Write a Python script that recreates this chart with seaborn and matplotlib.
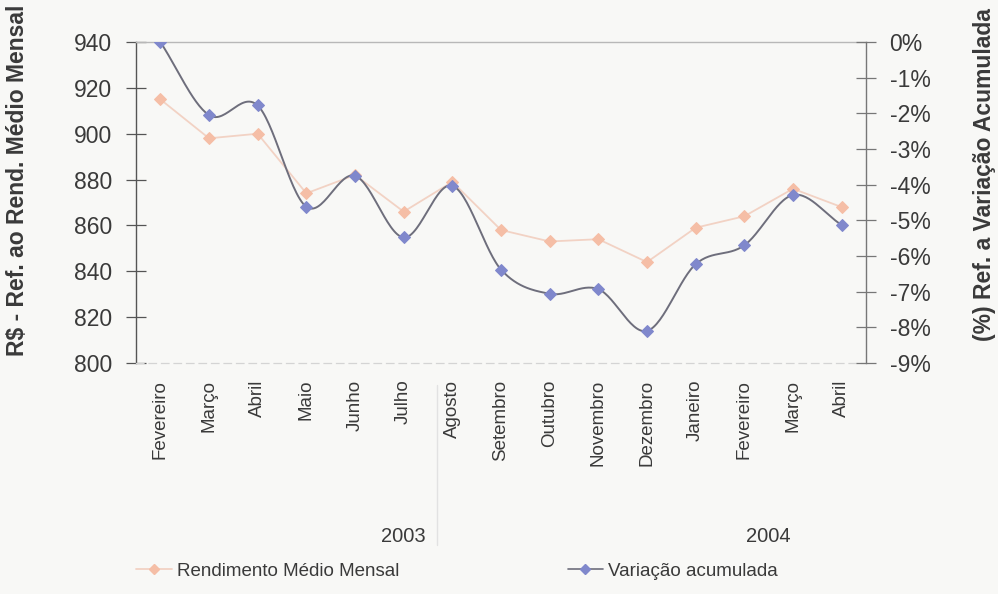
import numpy as np
import pandas as pd
import matplotlib
matplotlib.use("Agg")
import matplotlib.pyplot as plt
import matplotlib.transforms as mtransforms
from matplotlib.lines import Line2D
import seaborn as sns

# Monthly series, Feb/2003 - Apr/2004
meses = ["Fevereiro", "Março", "Abril", "Maio", "Junho", "Julho", "Agosto",
         "Setembro", "Outubro", "Novembro", "Dezembro", "Janeiro", "Fevereiro",
         "Março", "Abril"]
rendimento = [915, 898, 900, 874, 882, 866, 879, 858, 853, 854, 844, 859, 864, 876, 868]
variacao = [0.0, -2.05, -1.78, -4.62, -3.75, -5.48, -4.03, -6.38, -7.06, -6.93,
            -8.10, -6.23, -5.70, -4.29, -5.13]
anos = ["2003", "2004"]
ano_pos = [5.0, 12.5]
left_ticks = [800, 820, 840, 860, 880, 900, 920, 940]
right_ticks = [0, -1, -2, -3, -4, -5, -6, -7, -8, -9]

sns.set_theme(style="white")
plt.rcParams["font.family"] = ["Liberation Sans", "DejaVu Sans"]

BG = "#f8f8f6"
ORANGE_LINE = "#f2d2c4"
ORANGE_MK = "#f5bea6"
BLUE_LINE = "#6e6e7c"
BLUE_MK = "#8088cc"
TXT = "#3a3a3a"


def catmull_rom(xs, ys, n=30):
    """Smooth curve through the points (uniform Catmull-Rom, as Excel's smoothed lines)."""
    xs = np.asarray(xs, float)
    ys = np.asarray(ys, float)
    px = np.concatenate([[2 * xs[0] - xs[1]], xs, [2 * xs[-1] - xs[-2]]])
    py = np.concatenate([[2 * ys[0] - ys[1]], ys, [2 * ys[-1] - ys[-2]]])
    out_x, out_y = [], []
    t = np.linspace(0, 1, n, endpoint=False)
    for i in range(1, len(px) - 2):
        for p, out in ((px, out_x), (py, out_y)):
            p0, p1, p2, p3 = p[i - 1], p[i], p[i + 1], p[i + 2]
            seg = 0.5 * ((2 * p1) + (-p0 + p2) * t + (2 * p0 - 5 * p1 + 4 * p2 - p3) * t ** 2
                         + (-p0 + 3 * p1 - 3 * p2 + p3) * t ** 3)
            out.extend(seg)
    out_x.append(xs[-1])
    out_y.append(ys[-1])
    return np.array(out_x), np.array(out_y)


idx = np.arange(len(meses))
df = pd.DataFrame({"pos": idx, "rend": rendimento, "var": variacao})
sx, sy = catmull_rom(idx, variacao)
smooth = pd.DataFrame({"pos": sx, "var": sy})

fig = plt.figure(figsize=(9.98, 5.94), dpi=100, facecolor=BG)
ax = fig.add_axes([136 / 998, 1 - 363 / 594, 730 / 998, 321 / 594])
ax.set_facecolor(BG)
ax2 = ax.twinx()

# Rendimento médio mensal (left axis, straight segments)
sns.lineplot(data=df, x="pos", y="rend", ax=ax, color=ORANGE_LINE, linewidth=1.3,
             marker="D", markersize=6, markerfacecolor=ORANGE_MK,
             markeredgecolor=ORANGE_MK, sort=False, zorder=3)

# Variação acumulada (right axis, smoothed line)
sns.lineplot(data=smooth, x="pos", y="var", ax=ax2, color=BLUE_LINE, linewidth=1.4,
             sort=False, zorder=3)
sns.lineplot(data=df, x="pos", y="var", ax=ax2, color=BLUE_MK, linestyle="none",
             marker="D", markersize=6, markeredgecolor=BLUE_MK, sort=False, zorder=4)

ax.set_xlim(-0.5, len(meses) - 0.5)
ax.set_ylim(800, 940)
ax2.set_ylim(-9, 0)

ax.set_yticks(left_ticks)
ax.set_yticklabels([str(v) for v in left_ticks], fontsize=16.5, color=TXT)
ax2.set_yticks(right_ticks)
ax2.set_yticklabels([f"{v}%" if v == 0 else f"-{abs(v)}%" for v in right_ticks],
                    fontsize=16.5, color=TXT)

ax.set_xticks(idx)
ax.set_xticklabels(meses, rotation=90, fontsize=13.5, color=TXT, va="top")
ax.tick_params(axis="x", length=0, pad=12)
ax.tick_params(axis="y", direction="inout", length=14, width=0.9, color="#555555", pad=10)
ax2.tick_params(axis="y", direction="inout", length=14, width=0.9, color="#777777", pad=10)

ax.set_xlabel("")
ax.set_ylabel("")
ax2.set_ylabel("")

for a in (ax, ax2):
    for s in a.spines.values():
        s.set_visible(False)
ax.spines["left"].set_visible(True)
ax.spines["left"].set_color("#555555")
ax.spines["left"].set_linewidth(1.0)
ax2.spines["right"].set_visible(True)
ax2.spines["right"].set_color("#777777")
ax2.spines["right"].set_linewidth(1.0)
ax.spines["top"].set_visible(True)
ax.spines["top"].set_color("#b8b8b8")
ax.spines["top"].set_linewidth(1.0)
ax.spines["bottom"].set_visible(True)
ax.spines["bottom"].set_color("#d4d4d4")
ax.spines["bottom"].set_linestyle((0, (6, 4)))
ax.spines["bottom"].set_linewidth(0.9)

# Axis titles
fig.text(18 / 998, 1 - 180 / 594, "R$ - Ref. ao Rend. Médio Mensal", rotation=90,
         ha="center", va="center", fontsize=16.5, fontweight="bold", color=TXT)
fig.text(985 / 998, 1 - 175 / 594, "(%) Ref. a Variação Acumulada", rotation=90,
         ha="center", va="center", fontsize=16.5, fontweight="bold", color=TXT)

# Year group labels and separator
trans = mtransforms.blended_transform_factory(ax.transData, fig.transFigure)
for ano, pos in zip(anos, ano_pos):
    ax.text(pos, 1 - 536 / 594, ano, transform=trans, ha="center", va="center",
            fontsize=14.5, color=TXT)
ax.add_line(Line2D([5.68, 5.68], [1 - 385 / 594, 1 - 545 / 594], transform=trans,
                   color="#e2e2e2", linewidth=1.0, clip_on=False))

# Legend
handles = [
    Line2D([], [], color=ORANGE_LINE, linewidth=1.3, marker="D", markersize=5,
           markerfacecolor=ORANGE_MK, markeredgecolor=ORANGE_MK),
    Line2D([], [], color=BLUE_LINE, linewidth=1.2, marker="D", markersize=5,
           markerfacecolor=BLUE_MK, markeredgecolor=BLUE_MK),
]
fig.legend(handles, ["Rendimento Médio Mensal", "Variação acumulada"],
           loc="center", bbox_to_anchor=(457 / 998, 1 - 571 / 594), ncol=2,
           frameon=False, handlelength=1.87, handletextpad=0.27, columnspacing=9.0,
           prop={"size": 13.5}, labelcolor=TXT)

fig.savefig("out.png", dpi=100, facecolor=BG)
